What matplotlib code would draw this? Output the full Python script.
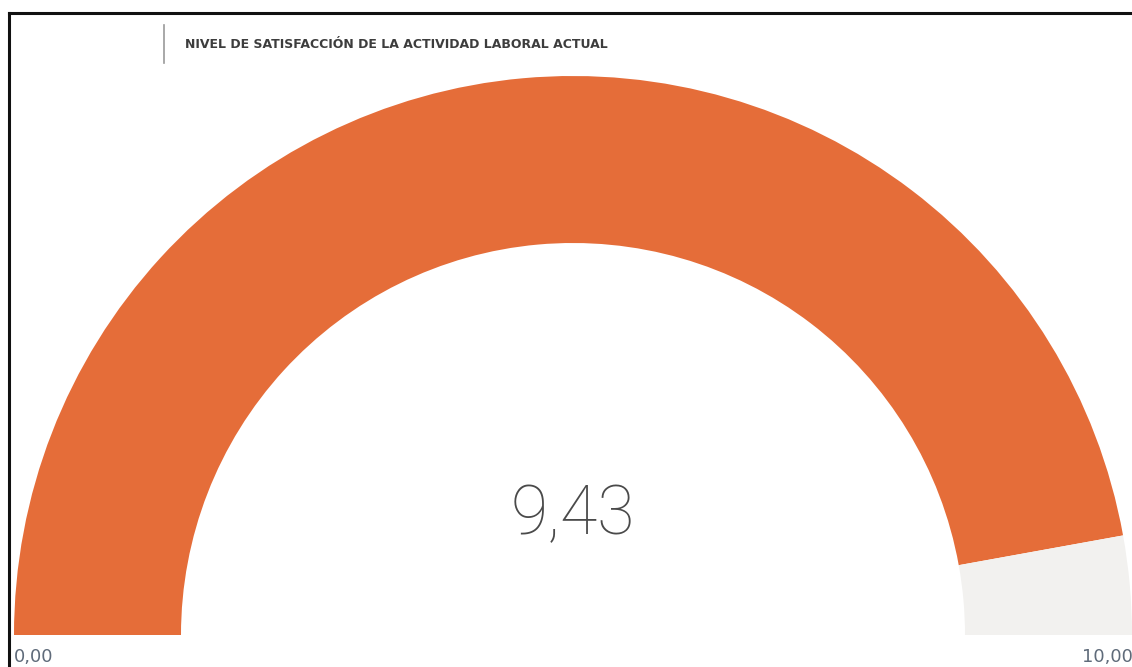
import matplotlib
matplotlib.use("Agg")
import matplotlib.pyplot as plt
from matplotlib.patches import Wedge
from matplotlib.lines import Line2D

# Gauge data
title = "NIVEL DE SATISFACCIÓN DE LA ACTIVIDAD LABORAL ACTUAL"
gauge_min = 0.0
gauge_max = 10.0
gauge_value = 9.43

def fmt(v):
    return f"{v:.2f}".replace(".", ",")

W, H = 1132, 667
fig = plt.figure(figsize=(W / 100, H / 100), dpi=100)
ax = fig.add_axes([0, 0, 1, 1])
ax.set_xlim(0, W)
ax.set_ylim(0, H)
ax.axis("off")

# Gauge geometry (pixel units, y upward)
cx, cy = 573, H - 635
r_out, r_in = 559, 392
frac = (gauge_value - gauge_min) / (gauge_max - gauge_min)
split_angle = 180 - 180 * frac

ax.add_patch(Wedge((cx, cy), r_out, split_angle, 180, width=r_out - r_in,
                   facecolor="#e56d39", edgecolor="none", antialiased=True))
ax.add_patch(Wedge((cx, cy), r_out, 0, split_angle, width=r_out - r_in,
                   facecolor="#f2f1ef", edgecolor="none", antialiased=True))

# Frame lines (top and left)
ax.add_line(Line2D([9, W], [H - 13, H - 13], color="#111111", lw=2.2))
ax.add_line(Line2D([9, 9], [0, H - 13], color="#111111", lw=2.2))

# Header separator and title
ax.add_line(Line2D([164, 164], [H - 25, H - 63], color="#9a9a9a", lw=1.2))
ax.text(185, H - 44, title, fontsize=9.0, fontweight="bold", color="#3d3d3d",
        family="DejaVu Sans", va="center", ha="left")

# Central value
ax.text(cx, H - 515, fmt(gauge_value), fontsize=49, color="#4a4a4a",
        family="Roboto", fontweight="light", ha="center", va="center")

# Min / max labels
ax.text(14, H - 657, fmt(gauge_min), fontsize=13, color="#5f6b7a",
        family="DejaVu Sans", ha="left", va="center")
ax.text(W + 1, H - 657, fmt(gauge_max), fontsize=13, color="#5f6b7a",
        family="DejaVu Sans", ha="right", va="center")

fig.savefig("out.png", dpi=100, facecolor="white")
